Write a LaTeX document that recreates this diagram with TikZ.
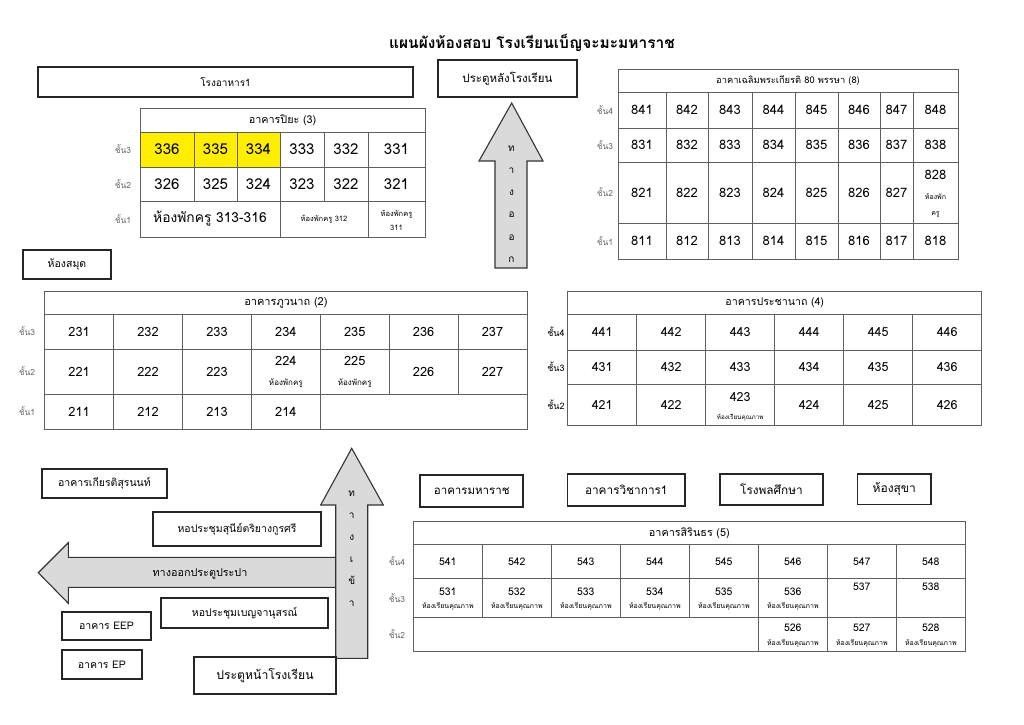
\documentclass[tikz,border=0pt]{standalone}
\usepackage{fontspec}
\setmainfont[Script=Thai]{Loma}
\definecolor{ylw}{RGB}{255,238,0}
\definecolor{afill}{RGB}{218,218,218}
\definecolor{gridc}{RGB}{95,95,95}
\definecolor{floorc}{RGB}{105,105,105}
\newcommand\fsz[1]{\fontsize{#1}{#1}\selectfont}
% name, x1, y1, x2, y2, style, text
\newcommand\rbox[7]{\node[#6, minimum width={(#4)-(#2)}, minimum height={(#5)-(#3)}] (#1) at ({((#2)+(#4))/2},{((#3)+(#5))/2}) {#7};}
% [dy], name, x1, y1, x2, y2, text
\newcommand\tcell[7][0]{\draw[gridline] ({#3},{#4}) rectangle ({#5},{#6}); \node[celltxt] (#2) at ({((#3)+(#5))/2},{((#4)+(#6))/2+(#1)}) {#7};}
\tikzset{
  gridline/.style={draw=gridc, line width=0.8pt},
  celltxt/.style={inner sep=0pt, font=\fsz{13}},
  subtxt/.style={inner sep=0pt, font=\fsz{7}},
  floor/.style={inner sep=0pt, text=floorc, font=\fsz{8.5}},
  lbox/.style={draw=black!85, line width=1.7pt, inner sep=0pt, font=\fsz{10.5}},
  arrowshape/.style={fill=afill, draw=black!80, line width=1.1pt, line join=miter},
  arrowtxt/.style={inner sep=0pt, font=\fsz{10}, text height=7pt, text depth=1pt},
}
\begin{document}
\begin{tikzpicture}[x=1pt,y=-1pt]
\useasboundingbox[fill=white] (0,0) rectangle (1024,724);

% title
\node[inner sep=0pt, font=\bfseries\fsz{15.5}] (title) at (532,43) {แผนผังห้องสอบ โรงเรียนเบ็ญจะมะมหาราช};

% label boxes
\rbox{canteen}{38}{67}{413}{97}{lbox, font=\fsz{10}}{โรงอาหาร1}
\rbox{backgate}{438}{60}{577}{97}{lbox, font=\fsz{11.5}}{ประตูหลังโรงเรียน}
\rbox{library}{23}{250}{111}{279}{lbox}{ห้องสมุด}
\rbox{kiat}{42.3}{469.3}{166.7}{497.7}{lbox}{อาคารเกียรติสุรนนท์}
\rbox{suni}{153.3}{511.7}{320.7}{546}{lbox}{หอประชุมสุนีย์ตริยางกูรศรี}
\rbox{benja}{161}{598.3}{328.3}{628.3}{lbox}{หอประชุมเบญจานุสรณ์}
\rbox{eep}{62}{611.7}{151}{640.3}{lbox}{อาคาร EEP}
\rbox{ep}{62}{650}{141.7}{679.3}{lbox}{อาคาร EP}
\rbox{maharat}{420.3}{474.8}{523.2}{507}{lbox, font=\fsz{11.5}}{อาคารมหาราช}
\rbox{wichakan}{567.6}{473.7}{684.9}{506.2}{lbox, font=\fsz{11.8}}{อาคารวิชาการ1}
\rbox{pe}{720}{473.7}{822.9}{505}{lbox, font=\fsz{11.8}}{โรงพลศึกษา}
\rbox{toilet}{857.6}{473.7}{930.9}{504.4}{lbox, font=\fsz{12}}{ห้องสุขา}

% exit arrow (up, top)
\draw[arrowshape] (495,268) -- (495,161) -- (479,161) -- (511.7,103) -- (543,161) -- (527,161) -- (527,268) -- cycle;
\foreach \ch [count=\i] in {ท,า,ง,อ,อ,ก}
  \node[arrowtxt] (out\i) at (511.5,{148.3+22.2*(\i-1)}) {\ch};

% left arrow
\draw[arrowshape] (335.7,557.3) -- (68.3,557.3) -- (68.3,542.7) -- (38.3,572.7) -- (68.3,603.3) -- (68.3,587.3) -- (335.7,587.3) -- cycle;
\node[inner sep=0pt, font=\fsz{10.8}] (leftexit) at (200,574) {ทางออกประตูประปา};

% entrance arrow (up, bottom)
\draw[arrowshape] (335.7,658.3) -- (335.7,505) -- (320.7,505) -- (351.7,448.3) -- (383.3,505) -- (367.7,505) -- (367.7,658.3) -- cycle;
\foreach \ch [count=\i] in {ท,า,ง,เ,ข้,า}
  \node[arrowtxt] (in\i) at (351.7,{493.3+22*(\i-1)}) {\ch};

\rbox{frontgate}{194.3}{657.3}{335.7}{694}{lbox, font=\fsz{12.2}}{ประตูหน้าโรงเรียน}

% ---------- Building 3 ----------
\fill[ylw] (140,132) rectangle (280,167);
\begin{scope}[celltxt/.style={inner sep=0pt, font=\fsz{15}}]
\tcell{h3}{140}{108}{425}{132}{\fsz{10.8}อาคารปิยะ (3)}
\foreach \a/\b/\n in {140/194/336,194/237/335,237/280/334,280/324/333,324/368/332,368/425/331}
  {\tcell{c\n}{\a}{132}{\b}{167}{\n}}
\foreach \a/\b/\n in {140/194/326,194/237/325,237/280/324,280/324/323,324/368/322,368/425/321}
  {\tcell{c\n}{\a}{167}{\b}{201}{\n}}
\tcell{c313}{140}{201}{280}{237}{\fsz{13.8}ห้องพักครู 313-316}
\tcell{c312}{280}{201}{368}{237}{\fsz{7.5}ห้องพักครู 312}
\tcell[-5]{c311}{368}{201}{425}{237}{\fsz{7.5}ห้องพักครู}
\node[subtxt, font=\fsz{7.5}] (n311) at (396.5,228) {311};
\end{scope}
\node[floor] (f33) at (123,149.5) {ชั้น3};
\node[floor] (f32) at (123,184) {ชั้น2};
\node[floor] (f31) at (123,219) {ชั้น1};

% ---------- Building 8 ----------
\begin{scope}[celltxt/.style={inner sep=0pt, font=\fsz{13}}]
\tcell{h8}{618}{69}{958}{92}{\fsz{9.3}อาคาเฉลิมพระเกียรติ 80 พรรษา (8)}
\foreach \a/\b/\k in {618/666/1,666/708/2,708/752/3,752/795/4,795/838/5,838/880/6,880/913/7,913/958/8}{
  \tcell{c84\k}{\a}{92}{\b}{128}{84\k}
  \tcell{c83\k}{\a}{128}{\b}{162}{83\k}
  \tcell{c81\k}{\a}{223}{\b}{259}{81\k}
}
\foreach \a/\b/\k in {618/666/1,666/708/2,708/752/3,752/795/4,795/838/5,838/880/6,880/913/7}{
  \tcell{c82\k}{\a}{162}{\b}{223}{82\k}
}
\tcell[-17.8]{c828}{913}{162}{958}{223}{828}
\node[subtxt, font=\fsz{7}] (s828a) at (935.5,197) {ห้องพัก};
\node[subtxt, font=\fsz{7}] (s828b) at (935.5,214) {ครู};
\end{scope}
\node[floor] (f84) at (605,110) {ชั้น4};
\node[floor] (f83) at (605,145) {ชั้น3};
\node[floor] (f82) at (605,192.5) {ชั้น2};
\node[floor] (f81) at (605,241) {ชั้น1};

% ---------- Building 2 ----------
\begin{scope}[celltxt/.style={inner sep=0pt, font=\fsz{12.8}}]
\tcell{h2}{44.7}{291}{527}{314}{\fsz{11}อาคารภูวนาถ (2)}
\foreach \a/\b/\k in {44.7/113.6/1,113.6/182.5/2,182.5/251.4/3,251.4/320.3/4,320.3/389.2/5,389.2/458.1/6,458.1/527/7}{
  \tcell{c23\k}{\a}{314}{\b}{349}{23\k}
}
\foreach \a/\b/\k in {44.7/113.6/1,113.6/182.5/2,182.5/251.4/3,389.2/458.1/6,458.1/527/7}{
  \tcell{c22\k}{\a}{349}{\b}{394}{22\k}
}
\tcell[-10.5]{c224}{251.4}{349}{320.3}{394}{224}
\tcell[-10.5]{c225}{320.3}{349}{389.2}{394}{225}
\node[subtxt, font=\fsz{8}] (s224) at (285.85,383) {ห้องพักครู};
\node[subtxt, font=\fsz{8}] (s225) at (354.75,383) {ห้องพักครู};
\foreach \a/\b/\k in {44.7/113.6/1,113.6/182.5/2,182.5/251.4/3,251.4/320.3/4}{
  \tcell{c21\k}{\a}{394}{\b}{429}{21\k}
}
\tcell{c21e}{320.3}{394}{527}{429}{}
\end{scope}
\node[floor] (f23) at (27,331.5) {ชั้น3};
\node[floor] (f22) at (27,371.5) {ชั้น2};
\node[floor] (f21) at (27,411.5) {ชั้น1};

% ---------- Building 4 ----------
\begin{scope}[celltxt/.style={inner sep=0pt, font=\fsz{12.5}}]
\tcell{h4}{567.7}{291.5}{981.7}{314.5}{\fsz{10.6}อาคารประชานาถ (4)}
\foreach \a/\b/\k in {567.7/636.7/1,636.7/705.7/2,705.7/774.7/3,774.7/843.7/4,843.7/912.7/5,912.7/981.7/6}{
  \tcell{c44\k}{\a}{314.5}{\b}{350}{44\k}
  \tcell{c43\k}{\a}{350}{\b}{384.5}{43\k}
}
\foreach \a/\b/\k in {567.7/636.7/1,636.7/705.7/2,774.7/843.7/4,843.7/912.7/5,912.7/981.7/6}{
  \tcell{c42\k}{\a}{384.5}{\b}{425}{42\k}
}
\tcell[-8]{c423}{705.7}{384.5}{774.7}{425}{423}
\node[subtxt, font=\fsz{6.3}] (s423) at (740.2,418) {ห้องเรียนคุณภาพ};
\end{scope}
\node[floor, text=black, font=\fsz{9}] (f44) at (556,332) {ชั้น4};
\node[floor, text=black, font=\fsz{9}] (f43) at (556,367) {ชั้น3};
\node[floor, text=black, font=\fsz{9}] (f42) at (556,404.7) {ชั้น2};

% ---------- Building 5 ----------
\begin{scope}[celltxt/.style={inner sep=0pt, font=\fsz{10.5}}]
\tcell{h5}{413.3}{521.7}{965.3}{544.3}{\fsz{10.8}อาคารสิรินธร (5)}
\foreach \a/\b/\k in {413.3/482.3/1,482.3/551.3/2,551.3/620.3/3,620.3/689.3/4,689.3/758.3/5,758.3/827.3/6,827.3/896.3/7,896.3/965.3/8}{
  \tcell{c54\k}{\a}{544.3}{\b}{578.3}{54\k}
}
\foreach \a/\b/\k in {413.3/482.3/1,482.3/551.3/2,551.3/620.3/3,620.3/689.3/4,689.3/758.3/5,758.3/827.3/6}{
  \tcell[-6.5]{c53\k}{\a}{578.3}{\b}{617.3}{53\k}
  \node[subtxt] (s53\k) at ({(\a+\b)/2},606.5) {ห้องเรียนคุณภาพ};
}
\tcell[-11]{c537}{827.3}{578.3}{896.3}{617.3}{537}
\tcell[-11]{c538}{896.3}{578.3}{965.3}{617.3}{538}
\tcell{c52e}{413.3}{617.3}{758.3}{651.7}{}
\foreach \a/\b/\k in {758.3/827.3/6,827.3/896.3/7,896.3/965.3/8}{
  \tcell[-6.5]{c52\k}{\a}{617.3}{\b}{651.7}{52\k}
  \node[subtxt] (s52\k) at ({(\a+\b)/2},643) {ห้องเรียนคุณภาพ};
}
\end{scope}
\node[floor] (f54) at (397,561) {ชั้น4};
\node[floor] (f53) at (397,598) {ชั้น3};
\node[floor] (f52) at (397,634) {ชั้น2};

\end{tikzpicture}
\end{document}
